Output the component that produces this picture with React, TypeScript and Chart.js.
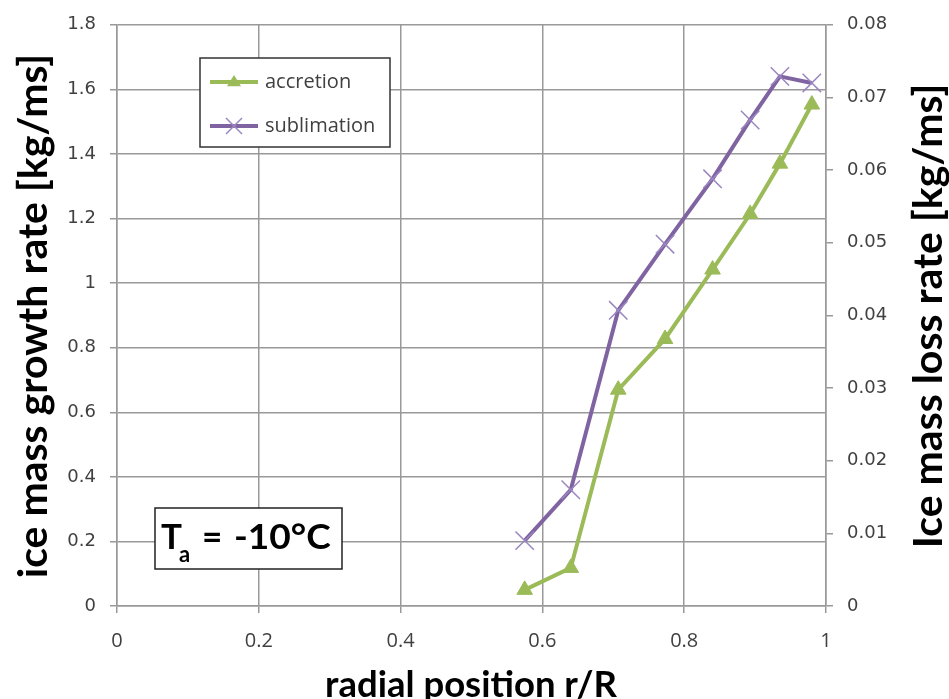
import React, { useEffect, useRef } from "react";
import { Chart, registerables } from "chart.js";
Chart.register(...registerables);

const radialPosition = [0.575, 0.64, 0.707, 0.773, 0.84, 0.893, 0.935, 0.98];
const accretionRate = [0.05, 0.118, 0.67, 0.827, 1.042, 1.214, 1.37, 1.553];
const sublimationRate = [0.009, 0.016, 0.0407, 0.0498, 0.0588, 0.0669, 0.0729, 0.072];
const seriesNames = ["accretion", "sublimation"];
const xTitle = "radial position r/R";
const leftTitle = "ice mass growth rate [kg/ms]";
const rightTitle = "Ice mass loss rate [kg/ms]";
const annotationMain = "T";
const annotationSub = "a";
const annotationEq = "=";
const annotationValue = "-10°C";

const GREEN = "#9bbb59";
const PURPLE = "#8064a2";
const GRID = "#999999";
const TEXT = "#404040";

const fmt = (v: any) => String(Number(Number(v).toFixed(3)));

const decorPlugin = {
  id: "decor",
  afterDraw(chart: any) {
    const ctx = chart.ctx as CanvasRenderingContext2D;
    ctx.save();
    // axis titles
    ctx.fillStyle = "#000";
    ctx.textAlign = "center";
    ctx.textBaseline = "middle";
    ctx.font = "bold 41px Lato";
    ctx.save();
    ctx.translate(34, 316);
    ctx.rotate(-Math.PI / 2);
    ctx.fillText(leftTitle, 0, 0);
    ctx.restore();
    ctx.font = "bold 41px Lato";
    ctx.save();
    ctx.translate(929, 316);
    ctx.rotate(-Math.PI / 2);
    ctx.fillText(rightTitle, 0, 0);
    ctx.restore();
    ctx.font = "bold 36.5px Lato";
    ctx.textBaseline = "alphabetic";
    ctx.fillText(xTitle, 471, 697);

    // legend
    const lx = 200, ly = 58, lw = 190, lh = 89;
    ctx.fillStyle = "#fff";
    ctx.fillRect(lx, ly, lw, lh);
    ctx.strokeStyle = "#333";
    ctx.lineWidth = 1.5;
    ctx.strokeRect(lx, ly, lw, lh);
    const rows = [ly + 24, ly + 68];
    chart.data.datasets.forEach((ds: any, i: number) => {
      const y = rows[i];
      const cx = lx + 34;
      ctx.strokeStyle = ds.borderColor;
      ctx.lineWidth = 4;
      ctx.beginPath();
      ctx.moveTo(lx + 10, y);
      ctx.lineTo(lx + 58, y);
      ctx.stroke();
      ctx.fillStyle = ds.pointBackgroundColor;
      ctx.strokeStyle = ds.pointBorderColor;
      ctx.lineWidth = ds.pointBorderWidth;
      if (ds.pointStyle === "triangle") {
        const r = 7;
        ctx.beginPath();
        ctx.moveTo(cx, y - r);
        ctx.lineTo(cx + r, y + r * 0.6);
        ctx.lineTo(cx - r, y + r * 0.6);
        ctx.closePath();
        ctx.fill();
      } else {
        const r = 8;
        ctx.beginPath();
        ctx.moveTo(cx - r, y - r);
        ctx.lineTo(cx + r, y + r);
        ctx.moveTo(cx + r, y - r);
        ctx.lineTo(cx - r, y + r);
        ctx.stroke();
      }
      ctx.fillStyle = TEXT;
      ctx.textAlign = "left";
      ctx.textBaseline = "middle";
      ctx.font = "20px 'Open Sans'";
      ctx.fillText(ds.label, lx + 65, y);
    });

    // annotation box
    const bx = 155, by = 508, bw = 187, bh = 61;
    ctx.fillStyle = "#fff";
    ctx.fillRect(bx, by, bw, bh);
    ctx.strokeStyle = "#222";
    ctx.lineWidth = 1.5;
    ctx.strokeRect(bx, by, bw, bh);
    ctx.fillStyle = "#000";
    ctx.textAlign = "left";
    ctx.textBaseline = "alphabetic";
    const base = 549;
    ctx.font = "bold 35px Lato";
    ctx.fillText(annotationMain, 161, base);
    ctx.font = "bold 22px Lato";
    ctx.fillText(annotationSub, 179, base + 13);
    ctx.font = "bold 35px Lato";
    ctx.fillText(annotationEq, 202, base);
    ctx.save();
    ctx.translate(234, base);
    ctx.scale(1.06, 1);
    ctx.fillText(annotationValue, 0, 0);
    ctx.restore();
    ctx.restore();
  },
};

export default function App() {
  const ref = useRef<HTMLCanvasElement | null>(null);
  useEffect(() => {
    if (!ref.current) return;
    const tickFontY = { family: "'DejaVu Sans'", size: 18 };
    const chart = new Chart(ref.current, {
      type: "line",
      data: {
        datasets: [
          {
            label: seriesNames[0],
            data: radialPosition.map((r, i) => ({ x: r, y: accretionRate[i] })),
            yAxisID: "y",
            borderColor: GREEN,
            backgroundColor: GREEN,
            borderWidth: 4,
            pointStyle: "triangle",
            pointRadius: 9,
            pointBackgroundColor: GREEN,
            pointBorderColor: GREEN,
            pointBorderWidth: 1,
            tension: 0,
          },
          {
            label: seriesNames[1],
            data: radialPosition.map((r, i) => ({ x: r, y: sublimationRate[i] })),
            yAxisID: "y2",
            borderColor: PURPLE,
            backgroundColor: PURPLE,
            borderWidth: 4,
            pointStyle: "crossRot",
            pointRadius: 13,
            pointBackgroundColor: "#9a86c0",
            pointBorderColor: "#9a86c0",
            pointBorderWidth: 1.5,
            tension: 0,
          },
        ],
      },
      options: {
        animation: false,
        responsive: false,
        devicePixelRatio: 1,
        layout: { padding: { top: 24, left: 0, right: 0, bottom: 0 } },
        plugins: { legend: { display: false }, tooltip: { enabled: false } },
        scales: {
          x: {
            type: "linear",
            min: 0,
            max: 1,
            ticks: { stepSize: 0.2, color: TEXT, font: { family: "'Open Sans'", size: 20 }, padding: 16, callback: fmt },
            grid: { color: GRID, lineWidth: 1.5, tickLength: 7 },
            border: { color: GRID, width: 1.5 },
            afterFit: (s: any) => { s.height = 93; },
          },
          y: {
            position: "left",
            min: 0,
            max: 1.8,
            ticks: { stepSize: 0.2, color: TEXT, font: tickFontY, padding: 14, callback: fmt },
            grid: { color: GRID, lineWidth: 1.5, tickLength: 7 },
            border: { color: GRID, width: 1.5 },
            afterFit: (s: any) => { s.width = 117; },
          },
          y2: {
            position: "right",
            min: 0,
            max: 0.08,
            ticks: { stepSize: 0.01, color: TEXT, font: tickFontY, padding: 14, callback: fmt },
            grid: { drawOnChartArea: false, color: GRID, lineWidth: 1.5, tickLength: 7 },
            border: { color: GRID, width: 1.5 },
            afterFit: (s: any) => { s.width = 123; },
          },
        },
      },
      plugins: [decorPlugin],
    } as any);
    return () => chart.destroy();
  }, []);
  return (
    <div style={{ position: "fixed", left: 0, top: 0, width: 949, height: 699, background: "#fff" }}>
      <canvas ref={ref} width={949} height={699} />
    </div>
  );
}
